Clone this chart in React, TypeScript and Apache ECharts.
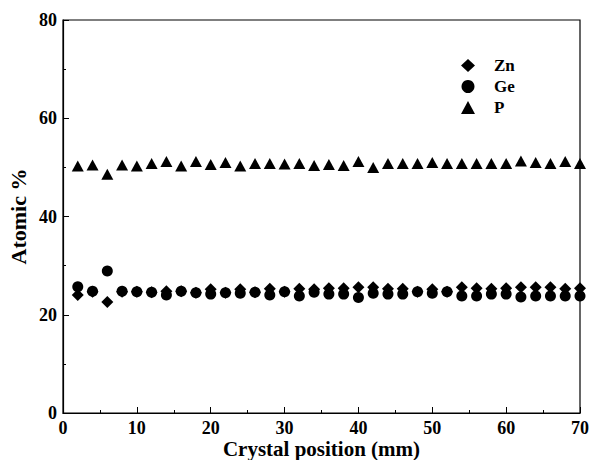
import React, { useEffect, useRef } from "react";
import * as echarts from "echarts";

const positions = [2, 4, 6, 8, 10, 12, 14, 16, 18, 20, 22, 24, 26, 28, 30, 32, 34, 36, 38, 40, 42, 44, 46, 48, 50, 52, 54, 56, 58, 60, 62, 64, 66, 68, 70];
const znValues = [24.0, 24.7, 22.6, 24.7, 24.7, 24.6, 24.8, 24.8, 24.5, 25.2, 24.5, 25.2, 24.6, 25.3, 24.7, 25.3, 25.2, 25.4, 25.4, 25.6, 25.6, 25.3, 25.3, 24.7, 25.2, 24.7, 25.6, 25.4, 25.3, 25.4, 25.6, 25.6, 25.6, 25.3, 25.4];
const geValues = [25.7, 24.8, 28.9, 24.8, 24.7, 24.6, 24.0, 24.8, 24.5, 24.2, 24.5, 24.4, 24.6, 24.0, 24.7, 23.8, 24.6, 24.2, 24.2, 23.5, 24.4, 24.2, 24.2, 24.7, 24.4, 24.7, 23.8, 23.8, 24.2, 24.2, 23.6, 23.8, 23.8, 23.8, 23.8];
const pValues = [50.3, 50.5, 48.6, 50.5, 50.3, 50.8, 51.2, 50.3, 51.2, 50.6, 51.0, 50.3, 50.8, 50.8, 50.7, 50.8, 50.4, 50.6, 50.4, 51.2, 50.0, 50.8, 50.8, 50.8, 51.0, 50.8, 50.8, 50.8, 50.8, 50.8, 51.3, 51.0, 50.8, 51.2, 50.8];
const seriesNames = ["Zn", "Ge", "P"];

const FONT = "'Liberation Serif', 'Times New Roman', serif";

export default function App() {
  const ref = useRef<HTMLDivElement>(null);
  useEffect(() => {
    if (!ref.current) return;
    const chart = echarts.init(ref.current, null, { renderer: "svg" });
    const pair = (vals: number[]) => positions.map((x, i) => [x, vals[i]]);
    chart.setOption({
      animation: false,
      backgroundColor: "#ffffff",
      grid: {
        left: 63,
        right: 11,
        top: 20,
        bottom: 47,
        outerBoundsMode: "none",
        containLabel: false,
        show: true,
        borderColor: "#000",
        borderWidth: 1.2,
      },
      legend: {
        orient: "vertical",
        left: 456,
        top: 52,
        itemWidth: 14,
        itemHeight: 13,
        itemGap: 4,
        data: seriesNames,
        textStyle: {
          fontFamily: FONT,
          fontWeight: "bold",
          fontSize: 17,
          color: "#000",
          padding: [0, 0, 0, 14],
        },
      },
      xAxis: {
        type: "value",
        min: 0,
        max: 70,
        interval: 10,
        name: "Crystal position (mm)",
        nameLocation: "middle",
        nameGap: 25,
        nameMoveOverlap: false,
        nameTextStyle: { fontFamily: FONT, fontWeight: "bold", fontSize: 21, color: "#000" },
        axisLine: { show: true, lineStyle: { color: "#000", width: 1.2 } },
        axisTick: { show: true, inside: true, length: 6, lineStyle: { color: "#000" } },
        minorTick: { show: true, splitNumber: 2, length: 3, lineStyle: { color: "#000" } },
        splitLine: { show: false },
        axisLabel: { fontFamily: FONT, fontWeight: "bold", fontSize: 18, color: "#000", margin: 6 },
      },
      yAxis: {
        type: "value",
        min: 0,
        max: 80,
        interval: 20,
        name: "Atomic %",
        nameLocation: "middle",
        nameGap: 34,
        nameMoveOverlap: false,
        nameTextStyle: { fontFamily: FONT, fontWeight: "bold", fontSize: 22, color: "#000" },
        axisLine: { show: true, lineStyle: { color: "#000", width: 1.2 } },
        axisTick: { show: true, inside: true, length: 6, lineStyle: { color: "#000" } },
        minorTick: { show: true, splitNumber: 2, length: 3, lineStyle: { color: "#000" } },
        splitLine: { show: false },
        axisLabel: { fontFamily: FONT, fontWeight: "bold", fontSize: 18, color: "#000", margin: 6 },
      },
      series: [
        {
          name: "Zn",
          type: "scatter",
          symbol: "diamond",
          symbolSize: 12,
          itemStyle: { color: "#000", opacity: 1 },
          data: pair(znValues),
        },
        {
          name: "Ge",
          type: "scatter",
          symbol: "circle",
          symbolSize: 11,
          itemStyle: { color: "#000", opacity: 1 },
          data: pair(geValues),
        },
        {
          name: "P",
          type: "scatter",
          symbol: "triangle",
          symbolSize: [12, 11],
          itemStyle: { color: "#000", opacity: 1 },
          data: pair(pValues),
        },
      ],
    });
    return () => chart.dispose();
  }, []);
  return <div ref={ref} style={{ width: 591, height: 460, position: "absolute", left: 0, top: 0 }} />;
}
